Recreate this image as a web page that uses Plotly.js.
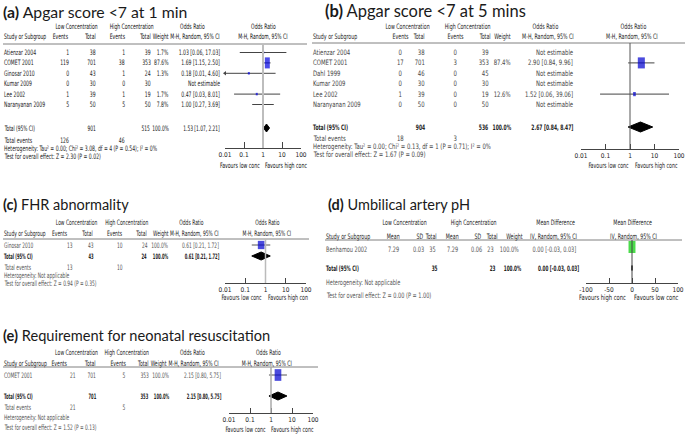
<!DOCTYPE html>
<html><head><meta charset="utf-8">
<script src="https://cdn.plot.ly/plotly-3.0.1.min.js"></script>
<style>html,body{margin:0;padding:0;background:#fff}#chart{width:685px;height:437px}</style>
</head><body><div id="chart"></div>
<script>
// ================= DATA =================
// (a) Apgar score <7 at 1 min
const aStudy   = ['Atienzar 2004','COMET 2001','Ginosar 2010','Kumar 2009','Lee 2002','Naranyanan 2009'];
const aLowEv   = [1,119,0,0,1,5];
const aLowN    = [38,701,43,30,39,50];
const aHighEv  = [1,38,1,0,1,5];
const aHighN   = [39,353,24,30,19,50];
const aWeight  = [1.7,87.6,1.3,null,1.7,7.8];
const aOR      = [1.03,1.69,0.18,null,0.47,1.00];
const aLo      = [0.06,1.15,0.01,null,0.03,0.27];
const aHi      = [17.03,2.50,4.60,null,8.01,3.69];
const aTotN    = [901,515];
const aTotEv   = [126,46];
const aTotCI   = [1.53,1.07,2.21];
const aHet     = 'Heterogeneity: Tau² = 0.00; Chi² = 3.08, df = 4 (P = 0.54); I² = 0%';
const aTest    = 'Test for overall effect: Z = 2.30 (P = 0.02)';

// (b) Apgar score <7 at 5 mins
const bStudy   = ['Atienzar 2004','COMET 2001','Dahl 1999','Kumar 2009','Lee 2002','Naranyanan 2009'];
const bLowEv   = [0,17,0,0,1,0];
const bLowN    = [38,701,46,30,39,50];
const bHighEv  = [0,3,0,0,0,0];
const bHighN   = [39,353,45,30,19,50];
const bWeight  = [null,87.4,null,null,12.6,null];
const bOR      = [null,2.90,null,null,1.52,null];
const bLo      = [null,0.84,null,null,0.06,null];
const bHi      = [null,9.96,null,null,39.06,null];
const bTotN    = [904,536];
const bTotEv   = [18,3];
const bTotCI   = [2.67,0.84,8.47];
const bHet     = 'Heterogeneity: Tau² = 0.00; Chi² = 0.13, df = 1 (P = 0.71); I² = 0%';
const bTest    = 'Test for overall effect: Z = 1.67 (P = 0.09)';

// (c) FHR abnormality
const cStudy   = ['Ginosar 2010'];
const cLowEv   = [13];
const cLowN    = [43];
const cHighEv  = [10];
const cHighN   = [24];
const cWeight  = [100.0];
const cOR      = [0.61];
const cLo      = [0.21];
const cHi      = [1.72];
const cTotN    = [43,24];
const cTotEv   = [13,10];
const cTotCI   = [0.61,0.21,1.72];
const cHet     = 'Heterogeneity: Not applicable';
const cTest    = 'Test for overall effect: Z = 0.94 (P = 0.35)';

// (d) Umbilical artery pH
const dStudy    = ['Benhamou 2002'];
const dLowMean  = [7.29];
const dLowSD    = [0.03];
const dLowN     = [35];
const dHighMean = [7.29];
const dHighSD   = [0.06];
const dHighN    = [23];
const dWeight   = [100.0];
const dMD       = [0.00];
const dLo       = [-0.03];
const dHi       = [0.03];
const dTotN     = [35,23];
const dTotCI    = [0.00,-0.03,0.03];
const dHet      = 'Heterogeneity: Not applicable';
const dTest     = 'Test for overall effect: Z = 0.00 (P = 1.00)';

// (e) Requirement for neonatal resuscitation
const eStudy   = ['COMET 2001'];
const eLowEv   = [21];
const eLowN    = [701];
const eHighEv  = [5];
const eHighN   = [353];
const eWeight  = [100.0];
const eOR      = [2.15];
const eLo      = [0.80];
const eHi      = [5.75];
const eTotN    = [701,353];
const eTotEv   = [21,5];
const eTotCI   = [2.15,0.80,5.75];
const eHet     = 'Heterogeneity: Not applicable';
const eTest    = 'Test for overall effect: Z = 1.52 (P = 0.13)';

const orTicks     = [0.01,0.1,1,10,100];
const orTickText  = ['0.01','0.1','1','10','100'];
const mdTicks     = [-100,-50,0,50,100];
const mdTickText  = ['-100','-50','0','50','100'];

// ================= LAYOUT HELPERS =================
const W = 685, H = 437;
const FS = 7.5;
const NARROW = '"Liberation Sans Narrow", "DejaVu Sans Condensed", "Arial Narrow", sans-serif';
const TITLEF = 'Lato, "Open Sans", sans-serif';
const annotations = [], annScale = [], shapes = [], traces = [];
const layout = {
  width: W, height: H, margin: {l:0, r:0, t:0, b:0},
  paper_bgcolor: '#fff', plot_bgcolor: 'rgba(0,0,0,0)', showlegend: false,
  yaxis: {range: [H, 0], domain: [0, 1], visible: false, fixedrange: true},
  xaxis6: {range: [0, W], domain: [0, 1], visible: false, fixedrange: true, anchor: 'y'},
  annotations, shapes
};

function txt(x, y, s, anchor, o) {
  o = o || {};
  annotations.push({xref: 'x6', yref: 'y', x: x, y: y, text: s, showarrow: false,
    xanchor: anchor || 'left', yanchor: 'middle', borderpad: 0,
    font: {family: o.family || NARROW, size: o.size || FS, color: o.color || '#222'}});
  annScale.push(o.sx || 1);
}
function hline(x0, x1, y, color, w) {
  shapes.push({type: 'line', xref: 'x6', yref: 'y', x0: x0, x1: x1, y0: y, y1: y,
    line: {color: color, width: w}});
}
const f2 = v => v.toFixed(2);
const ciText = (e, l, h) => f2(e) + ' [' + f2(l) + ', ' + f2(h) + ']';

function addAxis(cfg, type, range, tv, tt) {
  const name = 'xaxis' + (cfg.xaxis === 'x' ? '' : cfg.xaxis.slice(1));
  layout[name] = {type: type, range: range, domain: [cfg.axisL / W, cfg.axisR / W],
    anchor: 'free', position: 1 - cfg.axisY / H,
    showline: true, linecolor: '#444', linewidth: 1, ticks: 'inside', ticklen: cfg.tickLen || 5,
    tickcolor: '#444', tickwidth: 1, tickmode: 'array', tickvals: tv, ticktext: tt,
    tickfont: {family: NARROW, size: 6.5, color: '#222'}, showgrid: false, zeroline: false,
    fixedrange: true};
  const ref = type === 'log' ? 1 : 0;
  shapes.push({type: 'line', xref: cfg.xaxis, yref: 'y', x0: ref, x1: ref, y0: cfg.lineY, y1: cfg.axisY,
    line: {color: cfg.refColor, width: cfg.refWidth}});
}

function forestMarks(cfg, est, lo, hi, wt, tot, axisMin) {
  const rows = est.map((_, i) => cfg.rowY0 + i * cfg.rowStep);
  const cx = [], cy = [], ax = [], ay = [];
  est.forEach((e, i) => {
    if (e === null) return;
    cx.push(lo[i], hi[i], null); cy.push(rows[i], rows[i], null);
    if (axisMin !== null && lo[i] <= axisMin * 1.0001) { ax.push(lo[i]); ay.push(rows[i]); }
  });
  traces.push({type: 'scatter', mode: 'lines', x: cx, y: cy, xaxis: cfg.xaxis, yaxis: 'y',
    line: {color: cfg.ciColor, width: 1}, hoverinfo: 'skip'});
  if (ax.length) traces.push({type: 'scatter', mode: 'markers', x: ax, y: ay, xaxis: cfg.xaxis, yaxis: 'y',
    cliponaxis: false, marker: {symbol: 'triangle-left', size: 4, color: cfg.ciColor}, hoverinfo: 'skip'});
  const sx = [], sy = [], ss = [], sw = [];
  est.forEach((e, i) => {
    if (e === null) return;
    const h = Math.max(cfg.sqMin, cfg.sqK * Math.sqrt(wt[i]));
    sx.push(e); sy.push(rows[i] + (cfg.sqDy || 0)); ss.push(h / 1.4); sw.push(Math.max(2, h * cfg.sqAspect));
  });
  traces.push({type: 'scatter', mode: 'markers', x: sx, y: sy, xaxis: cfg.xaxis, yaxis: 'y',
    marker: {symbol: 'line-ns', size: ss, color: cfg.sqColor, line: {color: cfg.sqColor, width: sw}},
    hoverinfo: 'skip'});
  const ty = cfg.totalY, dh = cfg.diaH;
  traces.push({type: 'scatter', mode: 'lines', fill: 'toself', fillcolor: '#000',
    x: [tot[1], tot[0], tot[2], tot[0], tot[1]], y: [ty, ty - dh, ty, ty + dh, ty],
    xaxis: cfg.xaxis, yaxis: 'y', line: {color: '#000', width: 1}, hoverinfo: 'skip'});
  return rows;
}

function title(cfg) {
  txt(cfg.titleX, cfg.titleY, '<b>' + cfg.tag + '</b> ' + cfg.title, 'left',
    {family: TITLEF, size: cfg.titleSize, color: '#1a1a1a'});
}
function headers(cfg) {
  const o = {sx: cfg.sxH, color: cfg.hdrColor};
  cfg.hdr1.forEach(h => txt(h[1], cfg.hdr1Y, h[0], 'center', o));
  cfg.hdr2.forEach(h => txt(h[1], cfg.hdr2Y, h[0], h[2], o));
  hline(cfg.lineX0, cfg.lineX1, cfg.lineY, '#808080', 1);
  const of = {sx: cfg.sxF, color: cfg.hdrColor};
  txt(cfg.favL, cfg.favY, cfg.favLText, 'right', of);
  txt(cfg.favR, cfg.favY, cfg.favRText, 'left', of);
}
const bold = (cfg, s) => cfg.boldTotal ? '<b>' + s + '</b>' : String(s);

// ----- generic dichotomous (odds ratio) panel -----
function orPanel(cfg, study, lowEv, lowN, highEv, highN, wt, est, lo, hi, totN, totEv, totCI, het, test) {
  title(cfg);
  headers(cfg);
  addAxis(cfg, 'log', [-2, 2], orTicks, orTickText);
  const rows = forestMarks(cfg, est, lo, hi, wt, totCI, 0.01);
  const C = cfg.cols, r = {sx: cfg.sxT, color: cfg.rowColor};
  const hb = {sx: cfg.sxT * (cfg.boldTotal ? 0.84 : 0.95), color: cfg.hdrColor};
  study.forEach((s, i) => {
    const y = rows[i];
    txt(C.study[0], y, s, C.study[1], r);
    txt(C.lowEv[0], y, String(lowEv[i]), C.lowEv[1], r);
    txt(C.lowN[0], y, String(lowN[i]), C.lowN[1], r);
    txt(C.highEv[0], y, String(highEv[i]), C.highEv[1], r);
    txt(C.highN[0], y, String(highN[i]), C.highN[1], r);
    if (wt[i] !== null) txt(C.weight[0], y, wt[i].toFixed(1) + '%', C.weight[1], r);
    txt(C.ci[0], y, est[i] === null ? 'Not estimable' : ciText(est[i], lo[i], hi[i]), C.ci[1], r);
  });
  const ty = cfg.totalY;
  txt(C.study[0], ty, bold(cfg, 'Total (95% CI)'), 'left', hb);
  txt(C.lowN[0], ty, bold(cfg, totN[0]), C.lowN[1], hb);
  txt(C.highN[0] - 1, ty, bold(cfg, totN[1]), C.highN[1], hb);
  txt(C.weight[0], ty, bold(cfg, '100.0%'), C.weight[1], hb);
  txt(C.ci[0], ty, bold(cfg, ciText(totCI[0], totCI[1], totCI[2])), C.ci[1], hb);
  txt(C.study[0], cfg.totEvY, 'Total events', 'left', r);
  txt(C.lowEv[0], cfg.totEvY, String(totEv[0]), C.lowEv[1], r);
  txt(C.highEv[0], cfg.totEvY, String(totEv[1]), C.highEv[1], r);
  txt(C.study[0], cfg.hetY, het, 'left', r);
  txt(C.study[0], cfg.testY, test, 'left', r);
}

// ================= PANEL CONFIGS (positions / styles only) =================
const cfgA = {
  tag: '(a)', title: 'Apgar score &lt;7 at 1 min', titleX: 2, titleY: 11, titleSize: 15.8,
  xaxis: 'x', axisL: 225, axisR: 301, axisY: 148, tickLen: 6, refColor: '#bdbdbd', refWidth: 2,
  hdr1Y: 26, hdr2Y: 36, lineY: 44, lineX0: 3, lineX1: 307,
  rowY0: 52.5, rowStep: 10.4, totalY: 128, totEvY: 140, hetY: 148, testY: 156,
  favY: 165, favL: 261, favR: 264, favLText: 'Favours low conc', favRText: 'Favours high conc',
  sxT: 0.68, sxH: 0.67, sxF: 0.69, hdrColor: '#111', rowColor: '#222', ciColor: '#444', boldTotal: false,
  sqK: 1.18, sqAspect: 0.45, sqMin: 2.5, sqColor: '#0000e0', diaH: 4,
  hdr1: [['Low Concentration', 76], ['High Concentration', 131], ['Odds Ratio', 192], ['Odds Ratio', 263]],
  hdr2: [['Study or Subgroup', 3, 'left'], ['Events', 69, 'right'], ['Total', 97, 'right'],
         ['Events', 126, 'right'], ['Total', 152, 'right'], ['Weight', 170, 'right'],
         ['M-H, Random, 95% CI', 221, 'right'], ['M-H, Random, 95% CI', 263, 'center']],
  cols: {study: [3, 'left'], lowEv: [70, 'right'], lowN: [97, 'right'], highEv: [126, 'right'],
         highN: [152, 'right'], weight: [170, 'right'], ci: [221, 'right']}
};
const cfgB = {
  tag: '(b)', title: 'Apgar score &lt;7 at 5 mins', titleX: 324, titleY: 11, titleSize: 16.5,
  xaxis: 'x2', axisL: 581, axisR: 679, axisY: 149, refColor: '#555', refWidth: 1,
  hdr1Y: 26, hdr2Y: 36, lineY: 43, lineX0: 312, lineX1: 685,
  rowY0: 52.5, rowStep: 10.4, totalY: 127, totEvY: 138, hetY: 146, testY: 154,
  favY: 165, favL: 630, favR: 634, favLText: 'Favours low conc', favRText: 'Favours high conc',
  sxT: 0.79, sxH: 0.7, sxF: 0.7, hdrColor: '#222', rowColor: '#444', ciColor: '#444', boldTotal: true,
  sqK: 1.18, sqAspect: 0.64, sqMin: 2.5, sqColor: '#0000d0', diaH: 5,
  hdr1: [['Low Concentration', 407], ['High Concentration', 467], ['Odds Ratio', 545], ['Odds Ratio', 633]],
  hdr2: [['Study or Subgroup', 312, 'left'], ['Events', 400, 'center'], ['Total', 426, 'right'],
         ['Events', 455, 'center'], ['Total', 492, 'right'], ['Weight', 512, 'right'],
         ['M-H, Random, 95% CI', 575, 'right'], ['M-H, Random, 95% CI', 632, 'center']],
  cols: {study: [312, 'left'], lowEv: [400, 'center'], lowN: [426, 'right'], highEv: [455, 'center'],
         highN: [490, 'right'], weight: [512, 'right'], ci: [574, 'right']}
};
const cfgC = {
  tag: '(c)', title: 'FHR abnormality', titleX: 2, titleY: 204, titleSize: 14.5,
  xaxis: 'x3', axisL: 225, axisR: 306, axisY: 283, refColor: '#bbb', refWidth: 1.5,
  hdr1Y: 222, hdr2Y: 233, lineY: 239, lineX0: 3, lineX1: 309,
  rowY0: 245, rowStep: 10, totalY: 256, totEvY: 267, hetY: 275, testY: 283,
  favY: 297, favL: 263, favR: 267, favLText: 'Favours low conc', favRText: 'Favours high con',
  sxT: 0.65, sxH: 0.66, sxF: 0.7, hdrColor: '#222', rowColor: '#555', ciColor: '#555', boldTotal: true,
  sqK: 0.83, sqAspect: 0.8, sqMin: 2.5, sqColor: '#0000d0', diaH: 4,
  hdr1: [['Low Concentration', 76], ['High Concentration', 126], ['Odds Ratio', 191], ['Odds Ratio', 267]],
  hdr2: [['Study or Subgroup', 3, 'left'], ['Events', 68, 'right'], ['Total', 94, 'right'],
         ['Events', 123, 'right'], ['Total', 148, 'right'], ['Weight', 170, 'right'],
         ['M-H, Random, 95% CI', 220, 'right'], ['M-H, Random, 95% CI', 267, 'center']],
  cols: {study: [3, 'left'], lowEv: [74, 'right'], lowN: [95, 'right'], highEv: [124, 'right'],
         highN: [149, 'right'], weight: [169, 'right'], ci: [220, 'right']}
};
const cfgE = {
  tag: '(e)', title: 'Requirement for neonatal resuscitation', titleX: 2, titleY: 335, titleSize: 14.6,
  xaxis: 'x5', axisL: 229, axisR: 313, axisY: 413, refColor: '#aaa', refWidth: 1.5,
  hdr1Y: 352, hdr2Y: 363, lineY: 367, lineX0: 3, lineX1: 318,
  rowY0: 375, rowStep: 10, totalY: 396, totEvY: 407, hetY: 417, testY: 427,
  favY: 429, favL: 267, favR: 270, favLText: 'Favours low conc', favRText: 'Favours high conc',
  sxT: 0.65, sxH: 0.68, sxF: 0.7, hdrColor: '#222', rowColor: '#555', ciColor: '#555', boldTotal: true,
  sqK: 1.17, sqAspect: 0.57, sqMin: 2.5, sqColor: '#0000d0', diaH: 4,
  hdr1: [['Low Concentration', 76], ['High Concentration', 126], ['Odds Ratio', 192], ['Odds Ratio', 268]],
  hdr2: [['Study or Subgroup', 3, 'left'], ['Events', 68, 'right'], ['Total', 97, 'right'],
         ['Events', 127, 'right'], ['Total', 150, 'right'], ['Weight', 168, 'right'],
         ['M-H, Random, 95% CI', 220, 'right'], ['M-H, Random, 95% CI', 267, 'center']],
  cols: {study: [3, 'left'], lowEv: [77, 'right'], lowN: [97, 'right'], highEv: [126, 'right'],
         highN: [150, 'right'], weight: [170, 'right'], ci: [222, 'right']}
};
const cfgD = {
  tag: '(d)', title: 'Umbilical artery pH', titleX: 327, titleY: 204, titleSize: 14.5,
  xaxis: 'x4', axisL: 586, axisR: 678, axisY: 283, refColor: '#444', refWidth: 1,
  hdr1Y: 222, hdr2Y: 236, lineY: 240, lineX0: 325, lineX1: 682,
  rowY0: 249, rowStep: 10, totalY: 268, hetY: 282, testY: 295,
  favY: 297, favL: 627, favR: 633, favLText: 'Favours high conc', favRText: 'Favours low conc',
  sxT: 0.74, sxH: 0.7, sxF: 0.77, hdrColor: '#222', rowColor: '#555', ciColor: '#444', boldTotal: true,
  sqK: 1.2, sqAspect: 0.58, sqMin: 2.5, sqColor: '#00cc00', sqDy: -2, diaH: 2.5,
  hdr1: [['Low Concentration', 404], ['High Concentration', 473], ['Mean Difference', 555], ['Mean Difference', 632]],
  hdr2: [['Study or Subgroup', 325, 'left'], ['Mean', 393, 'center'], ['SD', 419, 'center'], ['Total', 438, 'right'],
         ['Mean', 452, 'center'], ['SD', 477, 'center'], ['Total', 499, 'right'], ['Weight', 524, 'right'],
         ['IV, Random, 95% CI', 578, 'right'], ['IV, Random, 95% CI', 633, 'center']],
  cols: {study: [325, 'left'], lowMean: [393, 'center'], lowSD: [418, 'center'], lowN: [437, 'right'],
         highMean: [452, 'center'], highSD: [476, 'center'], highN: [495, 'right'], weight: [520, 'right'],
         ci: [578, 'right']}
};

// ================= BUILD =================
orPanel(cfgA, aStudy, aLowEv, aLowN, aHighEv, aHighN, aWeight, aOR, aLo, aHi, aTotN, aTotEv, aTotCI, aHet, aTest);
orPanel(cfgB, bStudy, bLowEv, bLowN, bHighEv, bHighN, bWeight, bOR, bLo, bHi, bTotN, bTotEv, bTotCI, bHet, bTest);
orPanel(cfgC, cStudy, cLowEv, cLowN, cHighEv, cHighN, cWeight, cOR, cLo, cHi, cTotN, cTotEv, cTotCI, cHet, cTest);
orPanel(cfgE, eStudy, eLowEv, eLowN, eHighEv, eHighN, eWeight, eOR, eLo, eHi, eTotN, eTotEv, eTotCI, eHet, eTest);

// (d) continuous panel
(function () {
  const cfg = cfgD, C = cfg.cols;
  const r = {sx: cfg.sxT, color: cfg.rowColor}, hb = {sx: cfg.sxT * 0.84, color: cfg.hdrColor};
  title(cfg);
  headers(cfg);
  addAxis(cfg, 'linear', [-100, 100], mdTicks, mdTickText);
  const rows = forestMarks(cfg, dMD, dLo, dHi, dWeight, dTotCI, null);
  dStudy.forEach((s, i) => {
    const y = rows[i];
    txt(C.study[0], y, s, C.study[1], r);
    txt(C.lowMean[0], y, f2(dLowMean[i]), C.lowMean[1], r);
    txt(C.lowSD[0], y, f2(dLowSD[i]), C.lowSD[1], r);
    txt(C.lowN[0], y, String(dLowN[i]), C.lowN[1], r);
    txt(C.highMean[0], y, f2(dHighMean[i]), C.highMean[1], r);
    txt(C.highSD[0], y, f2(dHighSD[i]), C.highSD[1], r);
    txt(C.highN[0], y, String(dHighN[i]), C.highN[1], r);
    txt(C.weight[0], y, dWeight[i].toFixed(1) + '%', C.weight[1], r);
    txt(C.ci[0], y, ciText(dMD[i], dLo[i], dHi[i]), C.ci[1], r);
  });
  const ty = cfg.totalY;
  txt(C.study[0], ty, bold(cfg, 'Total (95% CI)'), 'left', hb);
  txt(C.lowN[0] + 2, ty, bold(cfg, dTotN[0]), 'right', hb);
  txt(C.highN[0] + 2, ty, bold(cfg, dTotN[1]), 'right', hb);
  txt(C.weight[0] + 2, ty, bold(cfg, '100.0%'), 'right', hb);
  txt(C.ci[0] + 2, ty, bold(cfg, ciText(dTotCI[0], dTotCI[1], dTotCI[2])), 'right', hb);
  txt(C.study[0], cfg.hetY, dHet, 'left', r);
  txt(C.study[0], cfg.testY, dTest, 'left', r);
})();

// horizontally condense the small table texts (the source uses a condensed face)
function condense(gd) {
  gd.querySelectorAll('.annotation').forEach(node => {
    const idx = +node.getAttribute('data-index');
    const s = annScale[idx];
    if (!s || s === 1) return;
    const t = node.querySelector('text');
    if (!t) return;
    const bb = t.getBBox();
    const a = annotations[idx].xanchor;
    const ax = a === 'left' ? bb.x : a === 'right' ? bb.x + bb.width : bb.x + bb.width / 2;
    const prev = t.getAttribute('transform') || '';
    t.setAttribute('transform', 'translate(' + ax + ',0) scale(' + s + ',1) translate(' + (-ax) + ',0) ' + prev);
  });
}
Plotly.newPlot('chart', traces, layout, {staticPlot: true, displayModeBar: false}).then(condense);
</script>
</body></html>
